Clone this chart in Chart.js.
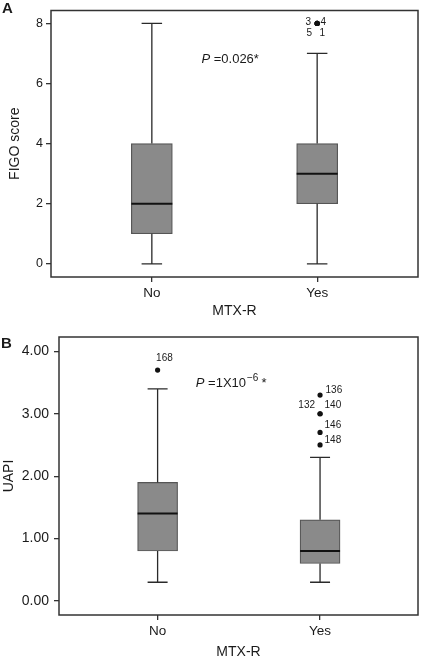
<!DOCTYPE html>
<html>
<head>
<meta charset="utf-8">
<script src="https://cdn.jsdelivr.net/npm/chart.js@4.4.1/dist/chart.umd.min.js"></script>
<style>
  html, body { margin: 0; padding: 0; background: #fff; }
  #caixa_a { position: absolute; left: 0; top: 0; width: 422px; height: 320px; }
  #caixa_b { position: absolute; left: 0; top: 320px; width: 422px; height: 341px; }
</style>
</head>
<body>
<div id="caixa_a"><canvas id="box_figo" width="422" height="320"></canvas></div>
<div id="caixa_b"><canvas id="box_uapi" width="422" height="341"></canvas></div>
<script>
/* Dados dos dois boxplots (MTX-R: No / Yes) */

const grupos = ['No', 'Yes'];

// A - FIGO score
const figo_min = [0, 0];
const figo_q1 = [1, 2];
const figo_mediana = [2, 3];
const figo_q3 = [4, 4];
const figo_max = [8, 7];
const figo_outlier_grupo = [1, 1, 1, 1];
const figo_outlier_valor = [8, 8, 8, 8];
const figo_outlier_caso = ['3', '4', '5', '1'];
const figo_ticks = [0, 2, 4, 6, 8];

// B - UAPI
const uapi_min = [0.3, 0.3];
const uapi_q1 = [0.8, 0.6];
const uapi_mediana = [1.4, 0.8];
const uapi_q3 = [1.9, 1.3];
const uapi_max = [3.4, 2.3];
const uapi_outlier_grupo = [0, 1, 1, 1, 1, 1];
const uapi_outlier_valor = [3.7, 3.3, 3.0, 3.0, 2.7, 2.5];
const uapi_outlier_caso = ['168', '136', '132', '140', '146', '148'];
const uapi_ticks = [0, 1, 2, 3, 4];

const fonte = '"Liberation Sans", Arial, sans-serif';
const cor_texto = '#1a1a1a';

function montar_boxplot(canvasId, cfg) {
    const caixas = grupos.map((g, i) => ({ x: i + 1, y: [cfg.q1[i], cfg.q3[i]] }));
    const pontos = cfg.outGrupo.map((g, i) => ({ x: g + 1, y: cfg.outValor[i] }));

    // bigodes, mediana, rótulos dos outliers, moldura e textos
    const plugin_boxplot = {
        id: 'boxplot_' + canvasId,
        afterDatasetsDraw(chart) {
            const { ctx, chartArea, scales: { x, y } } = chart;
            const barras = chart.getDatasetMeta(0).data;
            ctx.save();
            grupos.forEach((g, i) => {
                const px = x.getPixelForValue(i + 1);
                const meia = barras[i].width / 2;
                const yMax = y.getPixelForValue(cfg.max[i]);
                const yMin = y.getPixelForValue(cfg.min[i]);
                ctx.strokeStyle = '#2a2a2a';
                ctx.lineWidth = 1.3;
                ctx.beginPath();
                ctx.moveTo(px, y.getPixelForValue(cfg.q3[i]));
                ctx.lineTo(px, yMax);
                ctx.moveTo(px, y.getPixelForValue(cfg.q1[i]));
                ctx.lineTo(px, yMin);
                ctx.moveTo(px - meia / 2, yMax);
                ctx.lineTo(px + meia / 2, yMax);
                ctx.moveTo(px - meia / 2, yMin);
                ctx.lineTo(px + meia / 2, yMin);
                ctx.stroke();

                const yMed = y.getPixelForValue(cfg.mediana[i]);
                ctx.strokeStyle = '#111';
                ctx.lineWidth = 2;
                ctx.beginPath();
                ctx.moveTo(px - meia, yMed);
                ctx.lineTo(px + meia, yMed);
                ctx.stroke();
            });

            ctx.fillStyle = cor_texto;
            ctx.font = '10px ' + fonte;
            ctx.textBaseline = 'middle';
            cfg.outCaso.forEach((caso, i) => {
                const desl = cfg.rotuloDesl[i];
                ctx.textAlign = desl[2];
                ctx.fillText(caso,
                    x.getPixelForValue(cfg.outGrupo[i] + 1) + desl[0],
                    y.getPixelForValue(cfg.outValor[i]) + desl[1]);
            });

            ctx.strokeStyle = '#333';
            ctx.lineWidth = 1.5;
            ctx.strokeRect(chartArea.left, chartArea.top, chartArea.width, chartArea.height);

            // letra do painel
            ctx.font = 'bold 15px ' + fonte;
            ctx.textAlign = 'left';
            ctx.textBaseline = 'top';
            ctx.fillText(cfg.letra, cfg.letraPos[0], cfg.letraPos[1]);

            // valor de P
            ctx.textBaseline = 'middle';
            let tx = x.getPixelForValue(cfg.pPos[0]);
            const ty = y.getPixelForValue(cfg.pPos[1]);
            ctx.font = 'italic 13px ' + fonte;
            ctx.fillText('P', tx, ty);
            tx += ctx.measureText('P ').width;
            ctx.font = '13px ' + fonte;
            ctx.fillText(cfg.pTexto, tx, ty);
            if (cfg.pExpoente) {
                tx += ctx.measureText(cfg.pTexto).width + 1;
                ctx.font = '10px ' + fonte;
                ctx.fillText(cfg.pExpoente, tx, ty - 5);
                tx += ctx.measureText(cfg.pExpoente).width + 3;
                ctx.font = '13px ' + fonte;
                ctx.fillText(cfg.pFinal, tx, ty);
            }
            ctx.restore();
        }
    };

    return new Chart(document.getElementById(canvasId), {
        type: 'bar',
        data: {
            datasets: [{
                data: caixas,
                backgroundColor: '#8a8a8a',
                borderColor: '#555',
                borderWidth: 1.2,
                borderSkipped: false,
                barThickness: cfg.larguraCaixa
            }, {
                type: 'scatter',
                data: pontos,
                backgroundColor: '#111',
                borderWidth: 0,
                pointRadius: 2.6
            }]
        },
        options: {
            responsive: false,
            animation: false,
            layout: { padding: cfg.padding },
            plugins: { legend: { display: false }, tooltip: { enabled: false } },
            scales: {
                x: {
                    type: 'linear',
                    min: cfg.xMin,
                    max: cfg.xMax,
                    offset: false,
                    afterBuildTicks: s => { s.ticks = grupos.map((g, i) => ({ value: i + 1 })); },
                    afterFit: s => { s.height = cfg.alturaX; },
                    ticks: {
                        callback: v => grupos[v - 1],
                        font: { family: fonte, size: 13.5 },
                        color: cor_texto,
                        padding: 3,
                        maxRotation: 0,
                        autoSkip: false
                    },
                    grid: { drawOnChartArea: false, offset: false, tickLength: 5, color: '#333', lineWidth: 1.3 },
                    border: { display: false },
                    title: { display: true, text: 'MTX-R', font: { family: fonte, size: 14 }, color: cor_texto, padding: 0 }
                },
                y: {
                    type: 'linear',
                    min: cfg.yMin,
                    max: cfg.yMax,
                    afterBuildTicks: s => { s.ticks = cfg.yTicks.map(v => ({ value: v })); },
                    afterFit: s => { s.width = cfg.larguraY; },
                    ticks: {
                        callback: v => v.toFixed(cfg.casas),
                        font: { family: fonte, size: cfg.fonteY },
                        color: cor_texto,
                        padding: cfg.padY
                    },
                    grid: { drawOnChartArea: false, tickLength: 5, color: '#333', lineWidth: 1.3 },
                    border: { display: false },
                    title: { display: true, text: cfg.tituloY, font: { family: fonte, size: 14 }, color: cor_texto, padding: { top: cfg.padTituloY, bottom: 0 } }
                }
            }
        },
        plugins: [plugin_boxplot]
    });
}

const grafico_figo = montar_boxplot('box_figo', {
    min: figo_min, q1: figo_q1, mediana: figo_mediana, q3: figo_q3, max: figo_max,
    outGrupo: figo_outlier_grupo, outValor: figo_outlier_valor, outCaso: figo_outlier_caso,
    rotuloDesl: [[-9, -1.5, 'center'], [6, -1.5, 'center'], [-8, 10, 'center'], [5, 10, 'center']],
    yTicks: figo_ticks, casas: 0, yMin: -0.44, yMax: 8.43, xMin: 0.39, xMax: 2.61,
    padding: { left: 0, right: 3, top: 2, bottom: 0 }, alturaX: 43, larguraY: 51,
    fonteY: 12.5, padY: 3, tituloY: 'FIGO score', padTituloY: 7,
    larguraCaixa: 41, letra: 'A', letraPos: [2, 1],
    pPos: [1.30, 6.79], pTexto: '=0.026*'
});

const grafico_uapi = montar_boxplot('box_uapi', {
    min: uapi_min, q1: uapi_q1, mediana: uapi_mediana, q3: uapi_q3, max: uapi_max,
    outGrupo: uapi_outlier_grupo, outValor: uapi_outlier_valor, outCaso: uapi_outlier_caso,
    rotuloDesl: [[-1.5, -12, 'left'], [5.5, -4.5, 'left'], [-5, -8.5, 'right'], [4.5, -8.5, 'left'], [4.5, -7.5, 'left'], [4.5, -4.5, 'left']],
    yTicks: uapi_ticks, casas: 2, yMin: -0.225, yMax: 4.23, xMin: 0.393, xMax: 2.603,
    padding: { left: 0, right: 3, top: 17, bottom: 0 }, alturaX: 46, larguraY: 59,
    fonteY: 14, padY: 5, tituloY: 'UAPI', padTituloY: 1,
    larguraCaixa: 40, letra: 'B', letraPos: [1, 16],
    pPos: [1.235, 3.49], pTexto: '=1X10', pExpoente: '\u22126', pFinal: '*'
});
</script>
</body>
</html>
